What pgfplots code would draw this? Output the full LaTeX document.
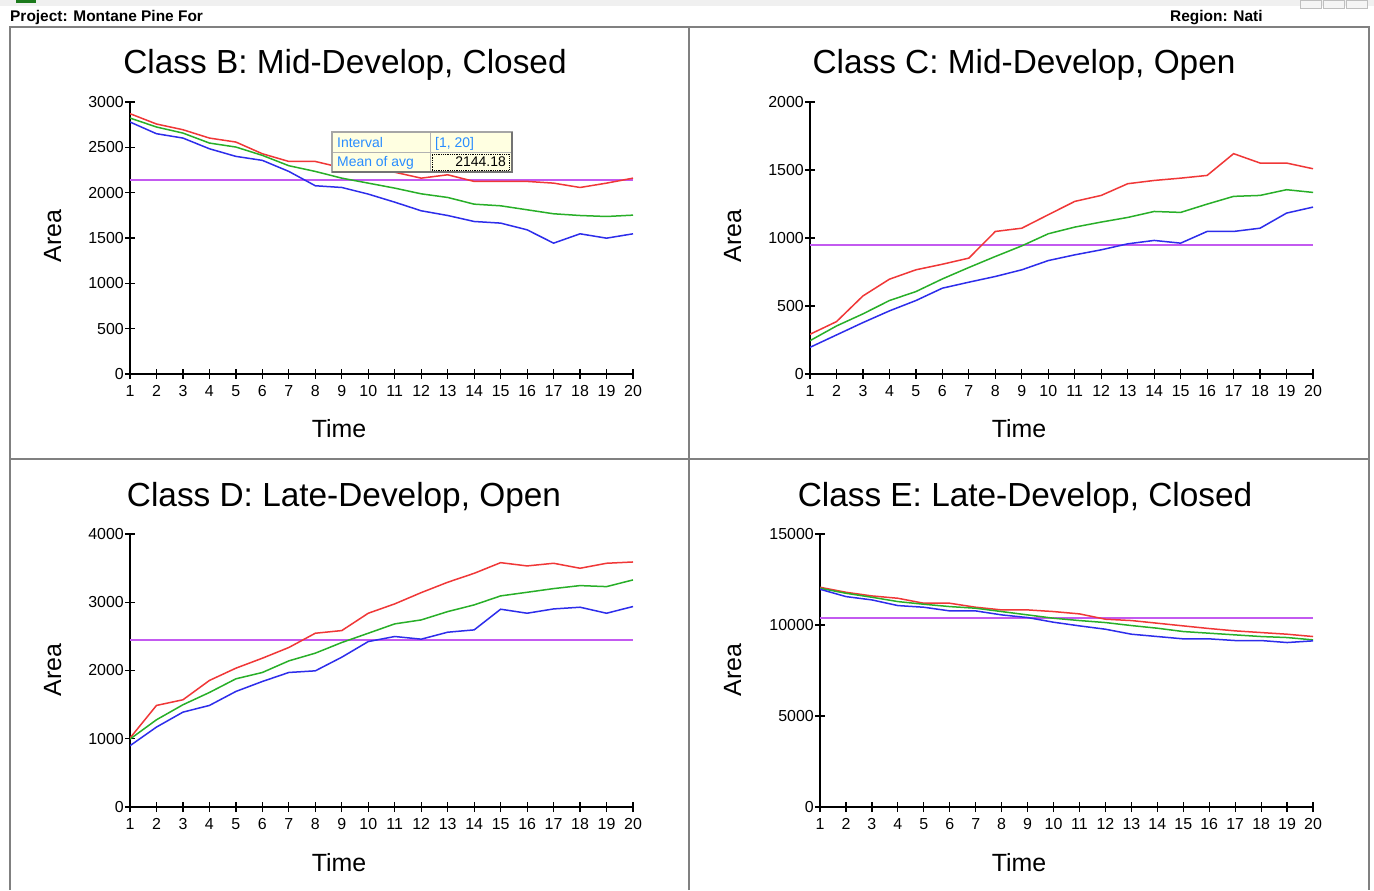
\documentclass[border=0pt]{standalone}
\usepackage{fontspec}
\setmainfont{Liberation Sans}
\usepackage{graphicx}
\usepackage{pgfplots}
\usepackage{pgfplotstable}
\pgfplotsset{compat=1.18}

\definecolor{cred}{RGB}{240,55,55}
\definecolor{cgreen}{RGB}{40,175,40}
\definecolor{cblue}{RGB}{45,45,235}
\definecolor{cviolet}{RGB}{195,90,240}
\definecolor{framegray}{RGB}{128,128,128}
\definecolor{tipbg}{RGB}{255,255,225}
\definecolor{tipblue}{RGB}{40,140,255}

\pgfplotstableread{
t red green blue
1 2871 2823 2779
2 2757 2724 2650
3 2694 2657 2602
4 2602 2547 2484
5 2558 2503 2400
6 2429 2411 2356
7 2344 2297 2234
8 2344 2234 2076
9 2275 2160 2057
10 2250 2105 1984
11 2225 2050 1895
12 2160 1987 1800
13 2197 1947 1748
14 2124 1873 1682
15 2124 1855 1664
16 2124 1811 1590
17 2105 1767 1443
18 2057 1748 1546
19 2105 1737 1498
20 2160 1752 1546
}\dataB

\pgfplotstableread{
t red green blue
1 292 245 196
2 385 353 287
3 574 442 378
4 697 540 464
5 766 606 540
6 807 699 631
7 852 783 675
8 1048 864 717
9 1072 942 766
10 1171 1031 834
11 1269 1080 876
12 1313 1117 913
13 1399 1151 957
14 1423 1195 982
15 1440 1188 962
16 1460 1249 1048
17 1620 1306 1048
18 1551 1313 1072
19 1551 1355 1183
20 1509 1335 1227
}\dataC

\pgfplotstableread{
t red green blue
1 1010 995 898
2 1488 1278 1171
3 1571 1498 1390
4 1854 1678 1488
5 2034 1878 1693
6 2180 1971 1839
7 2337 2141 1971
8 2546 2254 1995
9 2585 2410 2195
10 2839 2546 2424
11 2976 2683 2498
12 3141 2741 2459
13 3293 2863 2561
14 3424 2961 2595
15 3580 3093 2898
16 3532 3146 2839
17 3571 3200 2902
18 3498 3244 2927
19 3571 3229 2839
20 3590 3327 2937
}\dataD

\pgfplotstableread{
t red green blue
1 12073 12018 11963
2 11798 11743 11561
3 11597 11524 11378
4 11469 11286 11067
5 11195 11140 10976
6 11195 11012 10774
7 10976 10921 10774
8 10829 10738 10555
9 10829 10555 10409
10 10738 10372 10152
11 10610 10244 9951
12 10317 10134 9768
13 10244 9969 9494
14 10098 9823 9366
15 9951 9640 9238
16 9805 9549 9238
17 9677 9457 9146
18 9585 9366 9146
19 9494 9311 9036
20 9366 9183 9128
}\dataE

\pgfplotsset{
  panel/.style={
    scale only axis, anchor=south west,
    axis lines=left,
    axis line style={black, line width=1.2bp, -},
    xmin=1, xmax=20, ymin=0,
    enlargelimits=false,
    xtick={1,...,20},
    tick align=center,
    major tick length=10bp,
    tick style={black, line width=1.2bp},
    tick label style={font=\fontsize{16}{16}\selectfont},
    scaled y ticks=false,
    /pgf/number format/assume math mode=true,
    /pgf/number format/1000 sep={},
    yticklabel style={anchor=east, inner sep=0pt, xshift=-1bp},
    xticklabel style={anchor=north, inner sep=0pt, yshift=-6bp},
    every axis plot/.append style={line width=1.5bp, mark=none, sharp plot},
  },
  meanline/.style={draw=cviolet, line width=2bp, mark=none}
}

\begin{document}
\begin{tikzpicture}
\begin{scope}[x=1bp,y=1bp]
\fill[white] (0,0) rectangle (1374,890);
\path[use as bounding box] (0,0) rectangle (1374,890);
\fill[black!6] (0,884) rectangle (1374,890);
\fill[cgreen!70!black] (16,887) rectangle (36,890);
\foreach \bx in {1300,1323,1346}{\draw[black!25, fill=black!4] (\bx,882) rectangle (\bx+21,890);}
% frame
\draw[framegray, line width=2.5bp] (10,0) -- (10,863) -- (1369,863) -- (1369,0);
\draw[framegray, line width=2.5bp] (689,0) -- (689,863);
\draw[framegray, line width=2.5bp] (10,431) -- (1369,431);
% header
\node[anchor=base west, inner sep=0pt, font=\fontsize{15.5}{16}\selectfont\bfseries] at (10,868) {Project: Montane Pine For};
\node[anchor=base west, inner sep=0pt, font=\fontsize{15.5}{16}\selectfont\bfseries] at (1170,868) {Region: Nati};
% titles
\node[anchor=base, inner sep=0pt, font=\fontsize{33.5}{40}\selectfont] at (345,816) {Class B: Mid-Develop, Closed};
\node[anchor=base, inner sep=0pt, font=\fontsize{33.5}{40}\selectfont] at (1024,816) {Class C: Mid-Develop, Open};
\node[anchor=base, inner sep=0pt, font=\fontsize{33.5}{40}\selectfont] at (344,383) {Class D: Late-Develop, Open};
\node[anchor=base, inner sep=0pt, font=\fontsize{33.5}{40}\selectfont] at (1025,383) {Class E: Late-Develop, Closed};
% axis labels
\foreach \lx/\ly in {339/452, 1019/452, 339/19, 1019/19}{
  \node[anchor=base, inner sep=0pt, font=\fontsize{25}{30}\selectfont] at (\lx,\ly) {Time};}
\foreach \lx/\ly in {61/654, 741/654, 61/220, 741/220}{
  \node[anchor=base, rotate=90, inner sep=0pt, font=\fontsize{25}{30}\selectfont] at (\lx,\ly) {Area};}
\end{scope}

% Class B
\begin{axis}[panel, at={(130bp,516bp)}, width=503bp, height=272bp,
  ymax=3000, ytick={0,500,...,3000}]
\addplot[meanline] coordinates {(1,2144.18) (20,2144.18)};
\addplot[cred] table[x=t,y=red] {\dataB};
\addplot[cgreen] table[x=t,y=green] {\dataB};
\addplot[cblue] table[x=t,y=blue] {\dataB};
\end{axis}

% Class C
\begin{axis}[panel, at={(810bp,516bp)}, width=503bp, height=272bp,
  ymax=2000, ytick={0,500,...,2000}]
\addplot[meanline] coordinates {(1,945) (20,945)};
\addplot[cred] table[x=t,y=red] {\dataC};
\addplot[cgreen] table[x=t,y=green] {\dataC};
\addplot[cblue] table[x=t,y=blue] {\dataC};
\end{axis}

% Class D
\begin{axis}[panel, at={(130bp,83bp)}, width=503bp, height=273bp,
  ymax=4000, ytick={0,1000,...,4000}]
\addplot[meanline] coordinates {(1,2444) (20,2444)};
\addplot[cred] table[x=t,y=red] {\dataD};
\addplot[cgreen] table[x=t,y=green] {\dataD};
\addplot[cblue] table[x=t,y=blue] {\dataD};
\end{axis}

% Class E
\begin{axis}[panel, at={(820bp,83bp)}, width=493bp, height=273bp,
  ymax=15000, ytick={0,5000,10000,15000}]
\addplot[meanline] coordinates {(1,10408) (20,10408)};
\addplot[cred] table[x=t,y=red] {\dataE};
\addplot[cgreen] table[x=t,y=green] {\dataE};
\addplot[cblue] table[x=t,y=blue] {\dataE};
\end{axis}

% tooltip
\begin{scope}[x=1bp,y=1bp]
\fill[tipbg] (331,717) rectangle (513,759);
\draw[black!35, line width=2bp] (332,718) rectangle (512,758);
\draw[black!55, line width=2bp] (512,758) -- (512,718) -- (332,718);
\draw[black!30, line width=1bp] (430,719) -- (430,757);
\draw[black!30, line width=1bp] (333,737.5) -- (511,737.5);
\draw[black, densely dotted, line width=0.8bp] (432,720) rectangle (509,736);
\node[anchor=base west, inner sep=0pt, text=tipblue, font=\fontsize{14}{14}\selectfont] at (337,742) {Interval};
\node[anchor=base west, inner sep=0pt, text=tipblue, font=\fontsize{14}{14}\selectfont] at (435,742) {[1, 20]};
\node[anchor=base west, inner sep=0pt, text=tipblue, font=\fontsize{14}{14}\selectfont] at (337,723) {Mean of avg};
\node[anchor=base east, inner sep=0pt, text=black, font=\fontsize{14}{14}\selectfont] at (506,723) {2144.18};
\end{scope}
\end{tikzpicture}
\end{document}
